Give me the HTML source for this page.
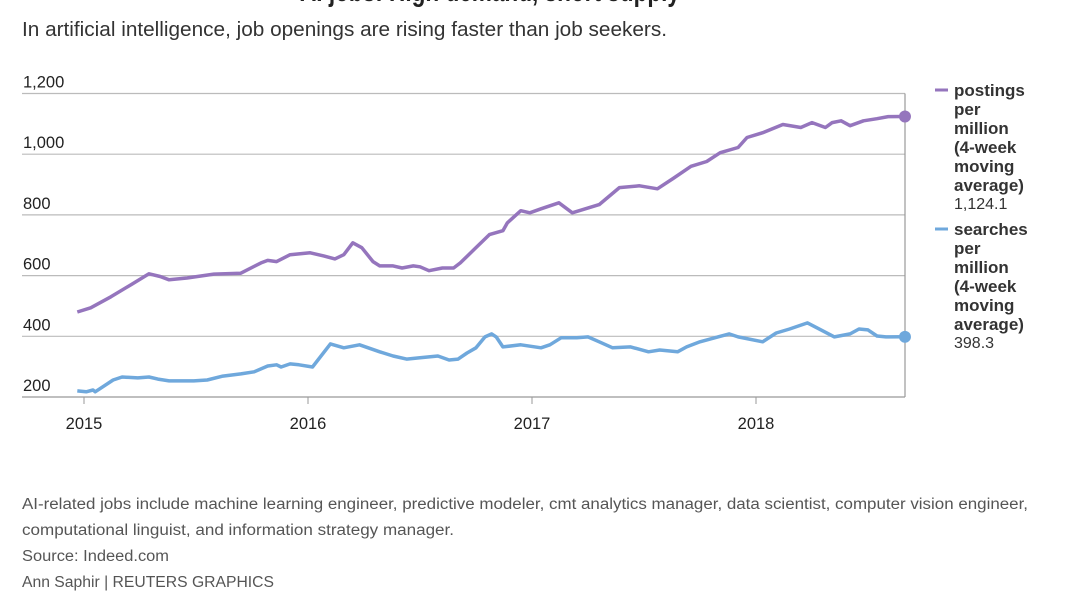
<!DOCTYPE html>
<html><head><meta charset="utf-8"><style>
body{margin:0;background:#fff;width:1080px;height:608px;overflow:hidden;font-family:"Liberation Sans",sans-serif}
</style></head><body>
<svg id="chart" width="1080" height="608" xmlns="http://www.w3.org/2000/svg" font-family="Liberation Sans, sans-serif">
<text x="300" y="1" font-size="30" font-weight="bold" fill="#222" textLength="380" lengthAdjust="spacingAndGlyphs">AI jobs: High demand, short supply</text>
<text x="22" y="36" font-size="20" fill="#333" textLength="645" lengthAdjust="spacingAndGlyphs">In artificial intelligence, job openings are rising faster than job seekers.</text>
<g id="grid"></g>
<g id="lines"></g>
<g id="legend">
<line x1="935" y1="90" x2="948" y2="90" stroke="#9575bd" stroke-width="3"/>
<text font-size="17" font-weight="bold" fill="#333">
<tspan x="954" y="96">postings</tspan><tspan x="954" y="115">per</tspan><tspan x="954" y="134">million</tspan><tspan x="954" y="153">(4-week</tspan><tspan x="954" y="172">moving</tspan><tspan x="954" y="191">average)</tspan></text>
<text x="954" y="209" font-size="16" fill="#333">1,124.1</text>
<line x1="935" y1="229" x2="948" y2="229" stroke="#6fa8dc" stroke-width="3"/>
<text font-size="17" font-weight="bold" fill="#333">
<tspan x="954" y="235">searches</tspan><tspan x="954" y="254">per</tspan><tspan x="954" y="273">million</tspan><tspan x="954" y="292">(4-week</tspan><tspan x="954" y="311">moving</tspan><tspan x="954" y="330">average)</tspan></text>
<text x="954" y="348" font-size="16" fill="#333">398.3</text>
</g>
<g font-size="15.5" fill="#555">
<text x="22" y="509" textLength="1006" lengthAdjust="spacingAndGlyphs">AI-related jobs include machine learning engineer, predictive modeler, cmt analytics manager, data scientist, computer vision engineer,</text>
<text x="22" y="535" textLength="432" lengthAdjust="spacingAndGlyphs">computational linguist, and information strategy manager.</text>
<text x="22" y="561" textLength="147" lengthAdjust="spacingAndGlyphs">Source: Indeed.com</text>
<text x="22" y="587" textLength="252" lengthAdjust="spacingAndGlyphs">Ann Saphir | REUTERS GRAPHICS</text>
</g>
</svg>
<script>
const yTicks=[200,400,600,800,1000,1200];
const yTickLabels=["200","400","600","800","1,000","1,200"];
const xTicks=[2015,2016,2017,2018];
const postDates=[2014.97,2015.03,2015.12,2015.21,2015.29,2015.34,2015.38,2015.46,2015.58,2015.70,2015.79,2015.82,2015.86,2015.92,2016.01,2016.07,2016.12,2016.16,2016.20,2016.24,2016.29,2016.32,2016.38,2016.42,2016.47,2016.50,2016.54,2016.60,2016.65,2016.68,2016.74,2016.81,2016.87,2016.89,2016.95,2016.99,2017.04,2017.12,2017.18,2017.30,2017.39,2017.48,2017.56,2017.63,2017.71,2017.78,2017.84,2017.92,2017.96,2018.03,2018.12,2018.20,2018.25,2018.31,2018.34,2018.38,2018.42,2018.48,2018.54,2018.59,2018.665];
const postValues=[480,494,530,570,606,597,586,592,605,608,642,650,646,669,675,665,655,669,708,692,646,632,632,625,632,629,616,625,625,642,685,735,748,774,814,807,820,840,807,834,890,896,886,920,960,976,1005,1022,1055,1071,1098,1088,1104,1088,1104,1110,1094,1110,1117,1124,1124.1];
const searchDates=[2014.97,2015.01,2015.04,2015.05,2015.13,2015.17,2015.24,2015.29,2015.33,2015.38,2015.49,2015.55,2015.62,2015.70,2015.76,2015.82,2015.86,2015.88,2015.92,2015.96,2016.02,2016.10,2016.16,2016.23,2016.32,2016.38,2016.44,2016.50,2016.58,2016.63,2016.67,2016.71,2016.75,2016.79,2016.82,2016.84,2016.87,2016.95,2017.04,2017.08,2017.13,2017.20,2017.25,2017.30,2017.36,2017.44,2017.52,2017.57,2017.65,2017.69,2017.75,2017.83,2017.88,2017.92,2018.03,2018.09,2018.15,2018.23,2018.29,2018.35,2018.42,2018.46,2018.50,2018.54,2018.58,2018.665];
const searchValues=[220,217,223,217,256,266,263,266,259,253,253,256,269,276,283,302,306,299,309,306,299,375,362,372,349,335,325,329,335,322,325,345,362,398,408,398,365,372,362,372,395,395,398,382,362,365,349,355,349,365,382,398,408,398,382,411,424,444,421,398,408,424,421,401,398,398.3];
const NS="http://www.w3.org/2000/svg";
const xS=t=>84+(t-2015)*224;
const yS=v=>397-(v-200)*0.3035;
const grid=document.getElementById('grid');
yTicks.forEach((v,i)=>{
  const l=document.createElementNS(NS,'line');
  
  
  l.setAttribute('x1',22);l.setAttribute('x2',905);l.setAttribute('y1',yS(v));l.setAttribute('y2',yS(v));
  l.setAttribute('stroke',v===200?'#999':'#bbb');l.setAttribute('stroke-width',1.2);
  grid.appendChild(l);
  const t=document.createElementNS(NS,'text');
  
  
  t.setAttribute('x',23);t.setAttribute('y',yS(v)-6);t.setAttribute('font-size',16.5);t.setAttribute('fill','#222');
  t.textContent=yTickLabels[i];grid.appendChild(t);
});
const vl=document.createElementNS(NS,'line');


vl.setAttribute('x1',905);vl.setAttribute('x2',905);vl.setAttribute('y1',yS(1200));vl.setAttribute('y2',yS(200));
vl.setAttribute('stroke','#999');vl.setAttribute('stroke-width',1.2);grid.appendChild(vl);
xTicks.forEach(y=>{
  const l=document.createElementNS(NS,'line');
  
  
  l.setAttribute('x1',xS(y));l.setAttribute('x2',xS(y));l.setAttribute('y1',397);l.setAttribute('y2',404);
  l.setAttribute('stroke','#999');grid.appendChild(l);
  const t=document.createElementNS(NS,'text');
  
  
  t.setAttribute('x',xS(y));t.setAttribute('y',429);t.setAttribute('font-size',16.5);t.setAttribute('fill','#222');t.setAttribute('text-anchor','middle');
  t.textContent=y;grid.appendChild(t);
});
const lines=document.getElementById('lines');
function draw(ds,vs,col,name){
  const p=document.createElementNS(NS,'path');
  
  
  p.setAttribute('d',ds.map((d,i)=>(i?'L':'M')+xS(d).toFixed(1)+','+yS(vs[i]).toFixed(1)).join(''));
  p.setAttribute('fill','none');p.setAttribute('stroke',col);p.setAttribute('stroke-width',3.5);p.setAttribute('stroke-linejoin','round');
  lines.appendChild(p);
  const c=document.createElementNS(NS,'circle');
  
  
  const n=ds.length-1;
  c.setAttribute('cx',xS(ds[n]));c.setAttribute('cy',yS(vs[n]));c.setAttribute('r',6);c.setAttribute('fill',col);
  lines.appendChild(c);
}
draw(postDates,postValues,'#9575bd','postings');
draw(searchDates,searchValues,'#6fa8dc','searches');
</script>
</body></html>
